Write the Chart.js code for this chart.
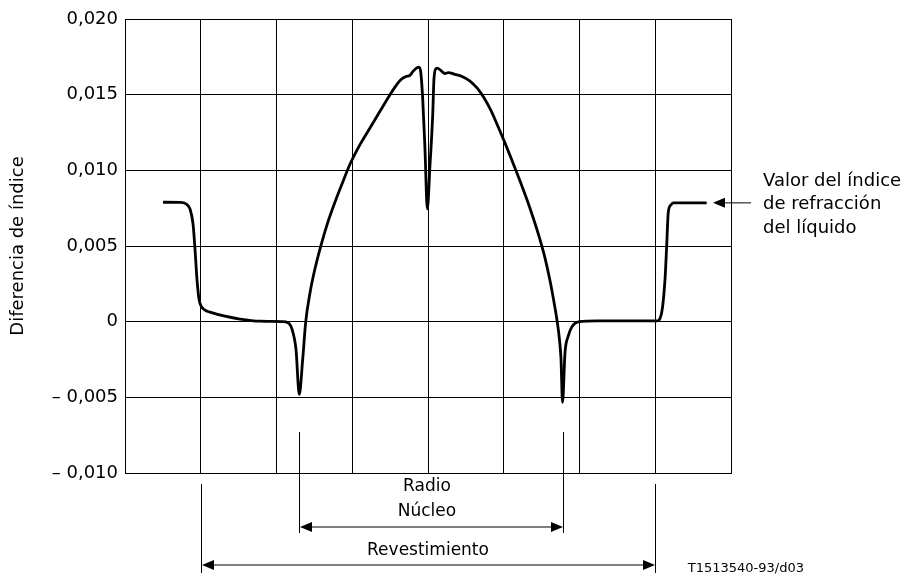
<!DOCTYPE html>
<html>
<head>
<meta charset="utf-8">
<script src="https://cdn.jsdelivr.net/npm/chart.js@4"></script>
<style>
  body { margin: 0; background: #fff; }
  #wrap { width: 915px; height: 574px; position: relative; }
</style>
</head>
<body>
<div id="wrap"><canvas id="chart"></canvas></div>
<script>
// Posición radial (en divisiones de la retícula) y diferencia de índice
const radius = [0.502, 0.726, 0.805, 0.858, 0.898, 0.924, 0.950, 0.977, 1.003, 1.056,
    1.122, 1.320, 1.518, 1.782, 2.073, 2.152, 2.205, 2.257, 2.301, 2.346,
    2.386, 2.442, 2.508, 2.574, 2.667, 2.772, 2.865, 2.970, 3.102, 3.234,
    3.366, 3.498, 3.578, 3.644, 3.710, 3.762, 3.802, 3.851, 3.881, 3.904,
    3.930, 3.960, 3.991, 4.026, 4.062, 4.079, 4.106, 4.123, 4.168, 4.224,
    4.268, 4.356, 4.449, 4.554, 4.647, 4.739, 4.832, 4.924, 5.017, 5.109,
    5.215, 5.307, 5.386, 5.465, 5.545, 5.611, 5.663, 5.703, 5.736, 5.756,
    5.776, 5.809, 5.852, 5.897, 5.997, 6.227, 7.019, 7.085, 7.129, 7.151,
    7.172, 7.208, 7.238, 7.679];
const indexDiff = [0.00789, 0.00788, 0.00778, 0.00745, 0.00646, 0.0048, 0.00281, 0.00149, 0.00105, 0.00076,
    0.00063, 0.00036, 0.00017, 0.00003, 0.0, -0.00007, -0.0005, -0.00182, -0.0048, -0.00248,
    0.0, 0.0019, 0.0035, 0.0048, 0.0064, 0.0079, 0.0091, 0.0104, 0.0117, 0.0128,
    0.0139, 0.0150, 0.0156, 0.0160, 0.0162, 0.01628, 0.01654, 0.01677, 0.01682, 0.0165,
    0.01474, 0.01142, 0.00745, 0.01032, 0.01363, 0.01606, 0.01672, 0.01675, 0.01661, 0.01639,
    0.01646, 0.01634, 0.0162, 0.0159, 0.01545, 0.0148, 0.01395, 0.0129, 0.0118, 0.01065,
    0.0093, 0.00805, 0.0069, 0.00565, 0.0042, 0.0027, 0.0013, 0.0001, -0.0012, -0.0025,
    -0.00533, -0.00202, -0.00094, -0.00036, 0.0, 0.00005, 0.00005, 0.00061, 0.00281, 0.00502,
    0.00723, 0.00772, 0.00785, 0.00785];

// Cotas: bordes del núcleo y del revestimiento, nivel del líquido
const coreEdges = [2.301, 5.776];
const claddingEdges = [1, 7];
const liquidLevel = 0.00785;
const liquidLabel = ['Valor del índice', 'de refracción', 'del líquido'];
const figureCode = 'T1513540-93/d03';

const FONT = 'DejaVu Sans';

// Formato de las marcas del eje vertical
function formatTick(v) {
    if (Math.abs(v) < 1e-9) return '0';
    const s = Math.abs(v).toFixed(3).replace('.', ',');
    return v < 0 ? '\u2013 ' + s : s;
}

// Flecha horizontal con puntas rellenas
function hArrow(ctx, x1, x2, y, both) {
    const len = 12, half = 5;
    ctx.beginPath();
    ctx.moveTo(x1 + (both ? len : 0), y);
    ctx.lineTo(x2 - len, y);
    ctx.stroke();
    ctx.beginPath();
    ctx.moveTo(x2, y); ctx.lineTo(x2 - len, y - half); ctx.lineTo(x2 - len, y + half);
    ctx.closePath(); ctx.fill();
    if (both) {
        ctx.beginPath();
        ctx.moveTo(x1, y); ctx.lineTo(x1 + len, y - half); ctx.lineTo(x1 + len, y + half);
        ctx.closePath(); ctx.fill();
    }
}

function vLine(ctx, x, y1, y2) {
    const px = Math.round(x) + 0.5;
    ctx.beginPath();
    ctx.moveTo(px, y1);
    ctx.lineTo(px, y2);
    ctx.stroke();
}

const annotations = {
    id: 'annotations',
    afterDraw(chart) {
        const ctx = chart.ctx;
        const xs = chart.scales.x, ys = chart.scales.y;
        const bottom = chart.chartArea.bottom;
        ctx.save();
        ctx.strokeStyle = '#000';
        ctx.fillStyle = '#000';
        ctx.lineWidth = 1;

        // Núcleo
        const c1 = xs.getPixelForValue(coreEdges[0]);
        const c2 = xs.getPixelForValue(coreEdges[1]);
        vLine(ctx, c1, bottom - 41, bottom + 60);
        vLine(ctx, c2, bottom - 41, bottom + 60);
        hArrow(ctx, Math.round(c1) + 1, Math.round(c2), bottom + 54, true);

        // Revestimiento
        const r1 = xs.getPixelForValue(claddingEdges[0]);
        const r2 = xs.getPixelForValue(claddingEdges[1]);
        vLine(ctx, r1, bottom + 11, bottom + 100);
        vLine(ctx, r2, bottom + 11, bottom + 100);
        hArrow(ctx, Math.round(r1) + 1, Math.round(r2), bottom + 92, true);

        ctx.textAlign = 'center';
        ctx.textBaseline = 'middle';
        ctx.font = '17px "' + FONT + '"';
        const mid = (c1 + c2) / 2;
        ctx.fillText('Radio', mid - 4, bottom + 14);
        ctx.fillText('Núcleo', mid - 4, bottom + 39);
        ctx.fillText('Revestimiento', (r1 + r2) / 2, bottom + 78);

        // Flecha del índice del líquido
        const ly = ys.getPixelForValue(liquidLevel);
        const ax = chart.chartArea.right;
        ctx.beginPath();
        ctx.moveTo(ax - 18 + 12, ly);
        ctx.lineTo(ax + 20, ly);
        ctx.stroke();
        ctx.beginPath();
        ctx.moveTo(ax - 18, ly); ctx.lineTo(ax - 6, ly - 5); ctx.lineTo(ax - 6, ly + 5);
        ctx.closePath(); ctx.fill();

        ctx.textAlign = 'left';
        ctx.font = '18px "' + FONT + '"';
        liquidLabel.forEach((t, i) => ctx.fillText(t, ax + 32, ly - 22 + i * 23.5));

        ctx.font = '13px "' + FONT + '"';
        ctx.textAlign = 'right';
        ctx.textBaseline = 'alphabetic';
        ctx.fillText(figureCode, 804, 572);
        ctx.restore();
    }
};

const points = radius.map((r, i) => ({ x: r, y: indexDiff[i] }));

new Chart(document.getElementById('chart'), {
    type: 'line',
    data: {
        datasets: [{
            data: points,
            borderColor: '#000',
            borderWidth: 2.8,
            pointRadius: 0,
            fill: false,
            cubicInterpolationMode: 'monotone'
        }]
    },
    options: {
        responsive: true,
        maintainAspectRatio: false,
        animation: false,
        layout: { padding: { top: 19, right: 184, bottom: 0, left: 0 } },
        plugins: { legend: { display: false }, tooltip: { enabled: false } },
        scales: {
            x: {
                type: 'linear',
                min: 0,
                max: 8,
                ticks: { display: false, stepSize: 1 },
                grid: { color: '#000', lineWidth: 1, drawTicks: false },
                border: { color: '#000', width: 1 },
                afterFit: s => { s.height = 101; }
            },
            y: {
                min: -0.01,
                max: 0.02,
                ticks: {
                    stepSize: 0.005,
                    padding: 7,
                    color: '#000',
                    font: { family: FONT, size: 18 },
                    callback: formatTick
                },
                grid: { color: '#000', lineWidth: 1, drawTicks: false },
                border: { color: '#000', width: 1 },
                title: {
                    display: true,
                    text: 'Diferencia de índice',
                    color: '#000',
                    font: { family: FONT, size: 18 },
                    padding: { top: 8, bottom: 0 }
                },
                afterFit: s => { s.width = 125; }
            }
        }
    },
    plugins: [annotations]
});
</script>
</body>
</html>
